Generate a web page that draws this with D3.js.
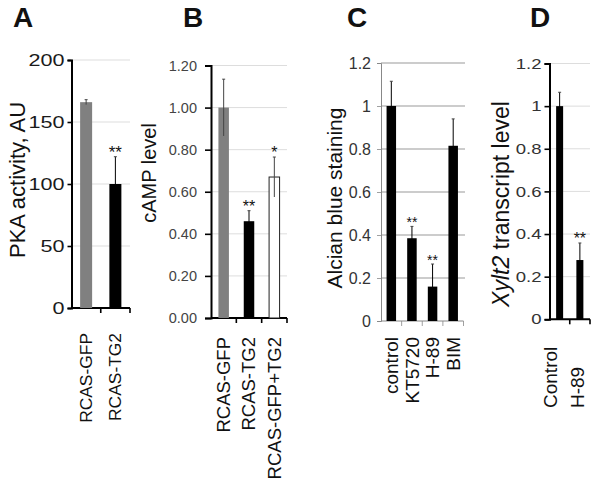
<!DOCTYPE html>
<html><head><meta charset="utf-8">
<script src="https://cdn.jsdelivr.net/npm/d3@7"></script>
<style>body{margin:0;background:#fff}svg{display:block;font-family:"Liberation Sans",Arial,sans-serif}</style>
</head><body><svg id="c" width="600" height="488"></svg>
<script>
// ---- data ----
const catsA = ["RCAS-GFP", "RCAS-TG2"];
const valsA = [166, 100];
const errA = [2, 22];
const sigA = ["", "**"];
const ticksA = [0, 50, 100, 150, 200];

const catsB = ["RCAS-GFP", "RCAS-TG2", "RCAS-GFP+TG2"];
const valsB = [1.00, 0.46, 0.67];
const errB = [0.135, 0.05, 0.095];
const sigB = ["", "**", "*"];
const ticksB = [0, 0.2, 0.4, 0.6, 0.8, 1.0, 1.2];

const catsC = ["control", "KT5720", "H-89", "BIM"];
const valsC = [1.0, 0.385, 0.16, 0.815];
const errC = [0.115, 0.055, 0.105, 0.125];
const sigC = ["", "**", "**", ""];
const ticksC = [0, 0.2, 0.4, 0.6, 0.8, 1, 1.2];

const catsD = ["Control", "H-89"];
const valsD = [1.0, 0.278];
const errD = [0.065, 0.08];
const sigD = ["", "**"];
const ticksD = [0, 0.2, 0.4, 0.6, 0.8, 1, 1.2];

const svg = d3.select("#c");

function panel(o) {
  const g = svg.append("g");
  const y = d3.scaleLinear().domain(o.domain).range(o.yr);
  const x = d3.scaleBand().domain(o.cats).range(o.xr);
  // gridlines
  g.selectAll(".grid").data(o.ticks.filter(t => t > 0)).join("line")
    .attr("x1", o.xr[0]).attr("x2", o.gridEnd)
    .attr("y1", d => y(d)).attr("y2", d => y(d))
    .attr("stroke", o.gridColor).attr("stroke-width", 1);
  // y axis
  const ya = d3.axisLeft(y).tickValues(o.ticks).tickFormat(o.fmt).tickSize(o.tickLen).tickPadding(o.pad);
  const yg = g.append("g").attr("transform", `translate(${o.xr[0]},0)`).call(ya);
  yg.select(".domain").attr("stroke", o.axisColor).attr("stroke-width", o.axisW);
  yg.selectAll(".tick line").attr("stroke", o.axisColor).attr("stroke-width", o.axisW * 0.8);
  yg.selectAll(".tick text").attr("font-size", o.tickFont).attr("fill", o.tickColor)
    .attr("font-family", '"Liberation Sans",Arial,sans-serif')
    .attr("transform", `scale(${o.tickSX},1)`)
    .attr("x", -(o.tickLen + o.pad) / o.tickSX);
  // x axis baseline with ticks between categories
  const xa = g.append("g");
  xa.append("line").attr("x1", o.xr[0]).attr("x2", o.xr[1]).attr("y1", y(0)).attr("y2", y(0))
    .attr("stroke", o.axisColor).attr("stroke-width", o.axisW);
  xa.selectAll(".xt").data(o.cats).join("line")
    .attr("x1", d => x(d) + x.bandwidth()).attr("x2", d => x(d) + x.bandwidth())
    .attr("y1", y(0)).attr("y2", y(0) + 5)
    .attr("stroke", o.axisColor).attr("stroke-width", o.axisW * 0.8);
  // bars
  const bw = o.barW;
  g.selectAll(".bar").data(o.vals).join("rect")
    .attr("x", (d, i) => x(o.cats[i]) + x.bandwidth() / 2 - bw / 2)
    .attr("width", bw)
    .attr("y", d => y(d)).attr("height", d => y(0) - y(d))
    .attr("fill", (d, i) => o.fills[i])
    .attr("stroke", (d, i) => o.fills[i] === "#fff" ? "#222" : "none")
    .attr("stroke-width", 1);
  // error bars
  g.selectAll(".err").data(o.vals).join("line")
    .attr("x1", (d, i) => x(o.cats[i]) + x.bandwidth() / 2)
    .attr("x2", (d, i) => x(o.cats[i]) + x.bandwidth() / 2)
    .attr("y1", (d, i) => y(d - o.errs[i])).attr("y2", (d, i) => y(d + o.errs[i]))
    .attr("stroke", (d, i) => o.fills[i] === "#000" ? "#000" : "#444").attr("stroke-width", 1);
  g.selectAll(".cap").data(o.vals).join("line")
    .attr("x1", (d, i) => x(o.cats[i]) + x.bandwidth() / 2 - 1.5)
    .attr("x2", (d, i) => x(o.cats[i]) + x.bandwidth() / 2 + 1.5)
    .attr("y1", (d, i) => y(d + o.errs[i])).attr("y2", (d, i) => y(d + o.errs[i]))
    .attr("stroke", "#444").attr("stroke-width", 1);
  // significance
  g.selectAll(".sig").data(o.sig).join("text")
    .attr("x", (d, i) => x(o.cats[i]) + x.bandwidth() / 2)
    .attr("y", (d, i) => y(o.vals[i] + o.errs[i]) + 1)
    .attr("text-anchor", "middle").attr("font-size", o.sigFont).attr("fill", "#111")
    .text(d => d);
  // category labels
  const lx = o.labelX || (d => x(d) + x.bandwidth() / 2);
  g.selectAll(".cl").data(o.cats).join("text")
    .attr("transform", d => `translate(${lx(d)},${o.labelY}) rotate(-90)`)
    .attr("dy", "0.35em").attr("text-anchor", o.labelAnchor)
    .attr("font-size", o.labelFont).attr("fill", "#111").text(d => d);
  // y title
  const t = g.append("text")
    .attr("transform", `translate(${o.titleX},${o.titleY}) rotate(-90)`)
    .attr("text-anchor", "middle").attr("font-size", o.titleFont).attr("fill", "#111");
  o.title.forEach(p => t.append("tspan").attr("font-style", p.it ? "italic" : "normal").text(p.t));
  // panel letter
  g.append("text").attr("x", o.letterX).attr("y", 27).attr("font-size", 28)
    .attr("font-weight", "bold").attr("fill", "#111").text(o.letter);
}

panel({ cats: catsA, vals: valsA, errs: errA, sig: sigA, ticks: ticksA, domain: [0, 200],
  yr: [308, 60], xr: [71.5, 130], gridEnd: 130, gridColor: "#ddd", axisColor: "#000", axisW: 2,
  fmt: d3.format("d"), tickLen: 4, pad: 3, tickFont: 16, tickSX: 1.35, tickColor: "#1a1a1a", barW: 12,
  fills: ["#808080", "#000"], sigFont: 17, labelY: 333, labelAnchor: "end", labelFont: 17.4,
  title: [{ t: "PKA activity, AU" }], titleX: 25, titleY: 180, titleFont: 22, letter: "A", letterX: 13 });

panel({ cats: catsB, vals: valsB, errs: errB, sig: sigB, ticks: ticksB, domain: [0, 1.2],
  yr: [318, 65.5], xr: [211, 287], gridEnd: 287, gridColor: "#ddd", axisColor: "#000", axisW: 2,
  fmt: d3.format(".2f"), tickLen: 6, pad: 8, tickFont: 14.5, tickSX: 1, tickColor: "#444", barW: 10.5,
  fills: ["#808080", "#000", "#fff"], sigFont: 16, labelY: 337, labelAnchor: "end", labelFont: 18.5,
  title: [{ t: "cAMP level" }], titleX: 156, titleY: 173, titleFont: 20, letter: "B", letterX: 183 });

panel({ cats: catsC, vals: valsC, errs: errC, sig: sigC, ticks: ticksC, domain: [0, 1.2],
  yr: [321, 63], xr: [381, 463.5], gridEnd: 465, gridColor: "#999", axisColor: "#888", axisW: 1,
  fmt: d3.format(""), tickLen: 4, pad: 6, tickFont: 16, tickSX: 1, tickColor: "#333", barW: 9.5,
  fills: ["#000", "#000", "#000", "#000"], sigFont: 14, labelY: 337, labelAnchor: "end", labelFont: 19,
  title: [{ t: "Alcian blue staining" }], titleX: 342, titleY: 198, titleFont: 21, letter: "C", letterX: 347 });

const lD = d3.scalePoint().domain(catsD).range([550, 577]);
panel({ cats: catsD, vals: valsD, errs: errD, sig: sigD, ticks: ticksD, domain: [0, 1.2],
  yr: [319.3, 63.5], xr: [549.5, 590], gridEnd: 590, gridColor: "#ddd", axisColor: "#000", axisW: 2,
  fmt: d3.format(""), tickLen: 5, pad: 3, tickFont: 14.5, tickSX: 1.28, tickColor: "#333", barW: 7,
  fills: ["#000", "#000"], sigFont: 16, labelY: 408, labelAnchor: "start", labelFont: 19, labelX: d => lD(d),
  title: [{ t: "Xylt2", it: true }, { t: " transcript level" }], titleX: 509, titleY: 204, titleFont: 23,
  letter: "D", letterX: 530 });
</script></body></html>
